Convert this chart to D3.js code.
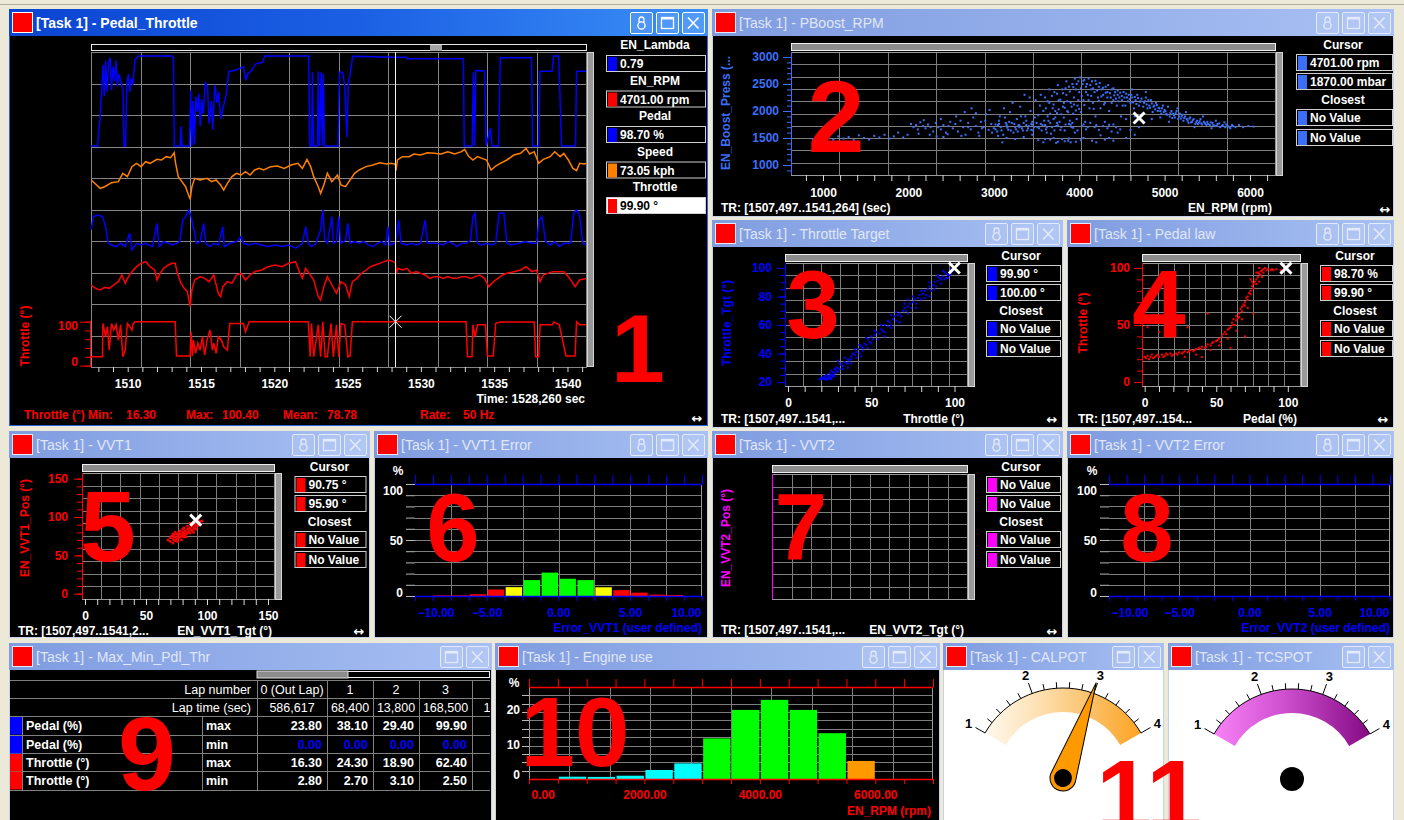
<!DOCTYPE html>
<html><head><meta charset="utf-8">
<script src="https://cdn.jsdelivr.net/npm/d3@7"></script>
<style>
html,body{margin:0;padding:0;background:#ece9d8;overflow:hidden}
svg{display:block}
</style></head><body>
<script>
// ---------- Pedal_Throttle time traces: [time s, value] ----------
const timeTicks = [1510, 1515, 1520, 1525, 1530, 1535, 1540];
const timeRange = [1507.497, 1541.264];
const cursorTime = 1528.26;

const pedalTrace = [[1507.50,0],[1507.95,0],[1508.02,15],[1508.12,32],[1508.25,70],[1508.32,90],[1508.4,55],[1508.5,95],[1508.6,60],[1508.7,92],[1508.8,98],[1508.9,62],[1509.0,88],[1509.1,72],[1509.2,95],[1509.3,66],[1509.4,80],[1509.55,70],[1509.68,62],[1509.75,0],[1509.85,0],[1509.95,70],[1510.05,80],[1510.15,60],[1510.25,75],[1510.35,68],[1510.5,96],[1510.75,100],[1513.05,100],[1513.12,98],[1513.18,0],[1513.58,0],[1513.64,22],[1513.7,0],[1514.22,0],[1514.3,62],[1514.38,0],[1514.45,50],[1514.55,2],[1514.65,55],[1514.75,38],[1514.85,58],[1514.95,22],[1515.05,52],[1515.15,36],[1515.3,70],[1515.45,66],[1515.55,25],[1515.7,50],[1515.8,18],[1515.95,68],[1516.1,48],[1516.2,60],[1516.35,30],[1516.5,42],[1516.7,55],[1516.9,83],[1517.3,84],[1517.6,86],[1517.9,88],[1518.05,73],[1518.2,80],[1518.5,85],[1518.7,91],[1519.2,93],[1519.35,100],[1522.35,100],[1522.42,0],[1522.55,0],[1522.6,82],[1522.68,0],[1522.95,0],[1523.0,83],[1523.08,0],[1523.2,82],[1523.28,0],[1523.35,80],[1523.42,0],[1524.35,0],[1524.45,82],[1524.65,82],[1524.8,68],[1524.95,10],[1525.05,68],[1525.2,82],[1525.35,99.6],[1528.26,98.7],[1529.0,98.7],[1529.05,97],[1532.9,97],[1532.96,0],[1533.5,0],[1533.58,82],[1533.66,0],[1533.75,84],[1534.35,83],[1534.45,0],[1534.75,20],[1534.85,0],[1535.3,0],[1535.42,98],[1537.55,98],[1537.62,0],[1538.05,0],[1538.12,83],[1538.95,83],[1539.05,100],[1539.4,100],[1539.6,0],[1540.55,0],[1540.62,83],[1541.3,83]];

const speedTrace = [[1507.50,55.6],[1507.81,51.1],[1508.12,46.3],[1508.43,48.1],[1508.90,52.6],[1509.36,53.7],[1509.67,63.0],[1509.98,59.3],[1510.29,70.4],[1510.60,74.1],[1510.91,70.4],[1511.22,75.9],[1511.53,74.1],[1512.00,78.5],[1512.31,77.8],[1512.62,81.5],[1512.93,80.4],[1513.17,85.9],[1513.27,74.1],[1513.45,59.3],[1513.70,53.7],[1513.95,48.1],[1514.07,42.6],[1514.26,34.1],[1514.38,48.1],[1514.57,57.4],[1514.94,55.6],[1515.41,57.4],[1515.72,53.7],[1516.03,55.6],[1516.34,50.0],[1516.55,44.4],[1516.80,51.9],[1517.11,59.3],[1517.42,63.0],[1517.73,61.1],[1518.04,64.8],[1518.35,61.1],[1518.66,66.7],[1518.97,68.5],[1519.28,66.7],[1519.75,70.4],[1520.21,71.1],[1520.68,68.5],[1521.14,72.2],[1521.61,74.1],[1521.92,68.5],[1522.23,78.5],[1522.48,70.4],[1522.69,59.3],[1523.00,48.1],[1523.16,40.8],[1523.38,50.0],[1523.62,63.0],[1523.93,53.7],[1524.31,61.1],[1524.55,50.0],[1524.86,48.1],[1525.17,55.6],[1525.48,63.0],[1525.79,66.7],[1526.26,70.4],[1526.72,72.2],[1527.19,74.8],[1527.66,73.3],[1527.97,74.1],[1528.26,73.05],[1528.3,66],[1528.4,77.8],[1528.74,81.5],[1529.21,81.5],[1529.52,84.4],[1529.98,83.3],[1530.45,85.9],[1530.91,85.2],[1531.38,84.4],[1531.84,87.0],[1532.31,84.4],[1532.77,87.0],[1532.99,89.6],[1533.24,82.2],[1533.55,77.8],[1533.86,81.5],[1534.17,79.6],[1534.48,77.8],[1534.79,66.7],[1535.10,71.1],[1535.41,74.1],[1535.87,77.8],[1536.34,83.3],[1536.80,85.2],[1537.17,90.7],[1537.42,84.4],[1537.73,87.0],[1538.04,74.1],[1538.35,78.5],[1538.82,81.5],[1539.13,87.0],[1539.50,81.5],[1539.75,85.2],[1540.06,77.8],[1540.37,68.5],[1540.62,65.9],[1540.83,74.1],[1541.14,73.3],[1541.30,74.1]];

const lambdaTrace = [[1507.50,0.877],[1507.66,0.966],[1507.97,0.977],[1508.28,0.966],[1508.49,0.899],[1508.68,0.788],[1508.90,0.777],[1509.21,0.766],[1509.52,0.788],[1509.83,0.766],[1510.14,0.855],[1510.29,0.743],[1510.60,0.788],[1510.91,0.777],[1511.22,0.788],[1511.69,0.766],[1512.00,0.921],[1512.15,0.766],[1512.46,0.799],[1512.77,0.788],[1513.08,0.777],[1513.55,0.799],[1513.76,0.943],[1513.95,0.966],[1514.17,1.01],[1514.32,0.966],[1514.57,0.855],[1514.69,0.788],[1514.94,0.799],[1515.19,0.921],[1515.31,0.788],[1515.62,0.766],[1515.87,0.788],[1516.18,0.777],[1516.49,0.899],[1516.59,0.766],[1516.96,0.788],[1517.42,0.799],[1517.73,0.832],[1517.89,0.788],[1518.29,0.777],[1518.66,0.788],[1519.13,0.777],[1519.59,0.766],[1520.06,0.777],[1520.52,0.766],[1520.99,0.777],[1521.45,0.755],[1521.92,0.788],[1522.14,0.899],[1522.32,0.788],[1522.54,0.766],[1522.85,0.788],[1523.16,0.877],[1523.31,1.01],[1523.44,0.81],[1523.62,0.788],[1523.93,0.966],[1524.03,0.788],[1524.24,0.799],[1524.40,0.966],[1524.55,0.788],[1524.86,0.81],[1525.02,0.921],[1525.17,0.788],[1525.48,0.799],[1525.79,0.788],[1526.10,0.799],[1526.41,0.777],[1526.72,0.766],[1527.03,0.788],[1527.34,0.799],[1527.59,0.777],[1527.75,0.899],[1527.90,0.777],[1528.26,0.79],[1528.49,0.943],[1528.65,0.788],[1529.05,0.777],[1529.36,0.788],[1529.67,0.777],[1529.98,0.788],[1530.29,0.943],[1530.45,0.788],[1530.76,0.788],[1531.07,0.788],[1531.53,0.777],[1531.84,0.799],[1532.15,0.788],[1532.46,0.766],[1532.77,0.788],[1533.08,0.788],[1533.39,0.81],[1533.55,0.966],[1533.70,0.988],[1533.86,0.788],[1534.10,0.777],[1534.48,0.788],[1534.79,0.777],[1535.10,0.788],[1535.34,0.988],[1535.66,0.988],[1535.87,0.788],[1536.18,0.777],[1536.65,0.788],[1537.11,0.799],[1537.58,0.788],[1537.89,0.788],[1538.07,0.943],[1538.26,0.966],[1538.51,0.799],[1538.82,0.777],[1539.13,0.799],[1539.44,0.766],[1539.75,0.788],[1540.22,0.788],[1540.43,0.988],[1540.62,1.01],[1540.83,0.977],[1541.04,0.788],[1541.30,0.777]];

const rpmTrace = [[1507.50,3233],[1507.81,3011],[1508.12,2900],[1508.43,3078],[1508.74,3011],[1509.05,3233],[1509.36,3456],[1509.61,3900],[1509.83,3344],[1509.98,3678],[1510.29,4122],[1510.60,4456],[1510.91,4678],[1511.22,4789],[1511.53,4456],[1511.84,4233],[1512.00,3567],[1512.21,4011],[1512.46,4344],[1512.77,4567],[1513.02,4678],[1513.24,4678],[1513.39,4011],[1513.64,3344],[1513.86,3011],[1514.07,2789],[1514.26,1789],[1514.38,2900],[1514.57,3567],[1514.94,3789],[1515.25,3678],[1515.56,3456],[1515.87,3900],[1516.18,2678],[1516.34,2456],[1516.49,3122],[1516.80,3456],[1517.11,3344],[1517.42,3900],[1517.73,4011],[1518.04,3567],[1518.35,3900],[1518.66,4122],[1519.13,4233],[1519.59,4456],[1520.06,4567],[1520.52,4456],[1520.99,4678],[1521.45,4789],[1521.76,4011],[1521.92,3678],[1522.14,4344],[1522.38,4011],[1522.69,3567],[1523.00,2456],[1523.16,2233],[1523.38,3122],[1523.62,3789],[1523.93,3233],[1524.24,2678],[1524.55,3456],[1524.86,3233],[1525.11,2456],[1525.33,3456],[1525.64,3678],[1525.95,4011],[1526.26,4233],[1526.57,4456],[1526.88,4567],[1527.19,4678],[1527.50,4789],[1527.81,4900],[1528.12,4789],[1528.26,4701],[1528.32,4011],[1528.43,4344],[1528.74,4233],[1529.05,4344],[1529.36,4011],[1529.67,4122],[1529.98,4011],[1530.29,3900],[1530.60,3678],[1530.91,3789],[1531.22,3789],[1531.53,3678],[1531.84,3789],[1532.15,3678],[1532.46,3678],[1532.77,3789],[1533.08,3789],[1533.39,3678],[1533.70,3789],[1534.02,3900],[1534.33,3678],[1534.64,3122],[1534.95,3456],[1535.26,3678],[1535.57,3900],[1535.87,4011],[1536.34,4122],[1536.80,4233],[1537.17,4456],[1537.58,4122],[1537.89,4233],[1538.13,3456],[1538.35,3900],[1538.66,4011],[1538.97,4122],[1539.28,4122],[1539.75,4122],[1540.06,3789],[1540.30,3456],[1540.52,3122],[1540.83,3567],[1541.30,3678]];

const throttleTrace = [[1507.50,20],[1508.28,20],[1508.31,96],[1508.49,66],[1508.62,89],[1508.74,35],[1508.90,96],[1509.05,81],[1509.21,93],[1509.36,58],[1509.52,93],[1509.67,20],[1509.83,35],[1509.98,96],[1510.14,89],[1510.29,81],[1510.38,96],[1510.51,99.9],[1513.24,99.9],[1513.33,22],[1514.26,22],[1514.32,77],[1514.41,22],[1514.48,58],[1514.63,28],[1514.79,51],[1514.94,35],[1515.10,66],[1515.25,24],[1515.41,58],[1515.62,81],[1515.78,35],[1515.87,51],[1516.03,28],[1516.18,66],[1516.40,58],[1516.55,43],[1516.80,35],[1516.96,96],[1517.89,96],[1518.04,77],[1518.29,99.9],[1522.32,99.9],[1522.45,20],[1522.54,96],[1522.69,20],[1523.00,93],[1523.16,20],[1523.31,99.9],[1523.47,20],[1523.62,20],[1523.87,96],[1524.03,20],[1524.24,93],[1524.40,20],[1524.55,96],[1524.80,93],[1525.02,20],[1525.17,22],[1525.33,99.9],[1533.08,99.9],[1533.18,20],[1533.49,20],[1533.55,93],[1533.70,66],[1533.86,93],[1534.41,93],[1534.54,22],[1534.94,22],[1535.10,96],[1535.41,99.5],[1537.73,99.5],[1537.83,20],[1538.04,20],[1538.13,93],[1538.97,93],[1539.07,99.5],[1539.44,93],[1539.90,22],[1540.52,22],[1540.62,99.9],[1540.83,93],[1541.30,93]];

const channelNames = ["EN_Lambda", "EN_RPM", "Pedal", "Speed", "Throttle"];
const channelValues = ["0.79", "4701.00 rpm", "98.70 %", "73.05 kph", "99.90 °"];
const throttleTicks = [0, 20, 40, 60, 80, 100];
const statNames = ["Throttle (°) Min:", "Max:", "Mean:", "Rate:"];
const statValues = ["16.30", "100.40", "78.78", "50 Hz"];
const cursorLabel = "Time: 1528,260 sec";

// ---------- PBoost_RPM scatter: [rpm, mbar] ----------
const boostPoints = [[880,1480],[930,1510],[990,1450],[1060,1500],[1120,1470],[1180,1530],[1240,1490],[1300,1520],[1360,1460],[1420,1550],[1480,1500],[1540,1470],[1600,1540],[1660,1510],[1720,1560],[1780,1490],[1830,1530],[1880,1600],[1940,1510],[1990,1560],
[2030,1760],[2060,1700],[2090,1740],[2110,1660],[2140,1790],[2170,1720],[2200,1680],[2230,1750],[2260,1700],[2290,1620],[2320,1780],[2350,1700],[2380,1660],[2410,1740],[2440,1600],[2470,1720],[2490,1800],[2120,1580],[2250,1560],[2330,1530],[2410,1520],[2460,1570],[2180,1830],[2380,1850],
[2520,1680],[2550,1760],[2580,1620],[2610,1820],[2640,1700],[2670,1560],[2700,1780],[2730,1660],[2760,1880],[2790,1720],[2820,1600],[2850,1800],[2880,1700],[2910,1940],[2940,1650],[2970,1760],[2560,1900],[2660,1980],[2740,2050],[2830,1540],[2900,1820],[2980,1600],[2620,1540],[2790,1960],[2700,1700],[2860,1680],[2950,2020],
[3000,1680],[3020,1750],[3040,1620],[3060,1820],[3080,1700],[3100,1420],[3110,1560],[3130,1880],[3150,1720],[3170,1650],[3190,1980],[3210,1780],[3230,1600],[3250,1700],[3270,1850],[3290,1740],[3310,2080],[3330,1680],[3350,1780],[3370,1900],[3390,1640],[3410,1720],[3430,2000],[3450,1800],[3470,1700],[3490,2200],[3050,1540],[3150,1500],[3250,1480],[3350,1520],[3450,1560],[3120,2050],[3220,2150],[3320,1900],[3420,2250],[3070,1900],[3180,1800],[3280,1620],[3380,1820],[3480,1880],[3360,2300],[3440,1650],
[3510,1700],[3520,1920],[3540,2100],[3550,1760],[3560,1640],[3580,2000],[3590,1820],[3600,2250],[3620,1700],[3630,1900],[3650,2150],[3660,1780],[3670,1580],[3690,2050],[3700,1850],[3710,2350],[3730,1720],[3740,1960],[3760,2200],[3770,1800],[3780,1650],[3800,2400],[3810,2080],[3820,1880],[3840,1750],[3850,2300],[3860,2000],[3870,1450],[3880,2450],[3890,1820],[3900,2150],[3910,1700],[3920,2500],[3930,1950],[3940,2250],[3950,1600],[3960,2400],[3970,1850],[3980,2100],[3990,2550],[3600,1480],[3700,1500],[3750,1430],[3800,1480],[3900,1420],[3550,2300],[3650,2400],[3750,2480],[3850,2550],[3950,2600],[3620,1600],[3720,2000],[3820,2150],[3920,1780],
[4000,2350],[4010,2620],[4020,1980],[4040,2500],[4050,2200],[4060,2580],[4070,1800],[4080,2450],[4100,2300],[4110,2600],[4120,2050],[4140,2400],[4150,2550],[4160,2150],[4180,2350],[4190,1900],[4200,2500],[4220,2250],[4230,2450],[4250,2050],[4260,2400],[4280,2300],[4300,2150],[4310,2450],[4330,2350],[4350,2000],[4370,2250],[4380,2400],[4400,2200],[4420,2350],[4440,2100],[4450,2300],[4470,2250],[4490,1900],[4050,1500],[4150,1450],[4250,1550],[4350,1500],[4450,1600],[4100,1700],[4300,1800],[4400,1750],
[4500,2200],[4520,2350],[4540,2100],[4560,2250],[4580,2300],[4600,2150],[4620,2250],[4640,2050],[4660,2200],[4680,2300],[4700,2100],[4720,2180],[4740,1950],[4760,2150],[4780,2250],[4800,2050],[4820,2100],[4840,2200],[4860,1980],[4880,2100],[4900,2150],[4920,2000],[4940,2050],[4960,1950],[4980,2100],[4550,1850],[4650,1900],[4750,1800],[4850,1850],[4950,1880],[4600,1650],[4700,1700],[4620,2400],[4780,2350],
[5000,2020],[5020,1950],[5040,2080],[5060,1900],[5080,2000],[5100,1950],[5120,1880],[5140,2000],[5160,1850],[5180,1950],[5200,1900],[5220,1820],[5240,1900],[5260,1850],[5280,1780],[5300,1880],[5320,1800],[5340,1850],[5360,1760],[5380,1820],[5400,1780],[5420,1850],[5440,1750],[5460,1800],[5480,1760],[5050,1800],[5150,2050],[5250,1980],[5350,1700],[5450,1900],
[5500,1800],[5530,1740],[5560,1780],[5590,1720],[5620,1760],[5650,1700],[5680,1740],[5710,1700],[5740,1720],[5770,1680],[5800,1720],[5830,1700],[5870,1740],[5920,1700],[5980,1720],[6040,1710],[5600,1820],[5700,1790],[5550,1680],
[3050,1740],[3150,1750],[3300,1735],[3450,1745],[3600,1740],[3750,1735],[3900,1745],[4050,1750],[4200,1740],[4350,1745],
[3610,2050],[3630,2180],[3660,1950],[3680,2280],[3700,2120],[3720,1880],[3740,2320],[3760,2030],[3780,2210],[3790,1940],[3810,2330],[3830,2060],[3840,2420],[3860,2180],[3870,1980],[3890,2360],[3910,2080],[3930,2440],[3940,2120],[3960,2010],[3970,2500],[3990,2200],[4000,2040],[4020,2420],[4030,2280],[4050,2560],[4060,2110],[4080,2350],[4090,2500],[4110,2200],[4130,2480],[4140,2280],[4160,2420],[4170,2040],[4190,2560],[4210,2380],[4230,2190],[4240,2520],[4260,2270],[4280,2430],[4290,2120],[4310,2340],[4330,2250],[4340,2480],[4360,2330],[4380,2150],[4400,2420],[4410,2290],[4430,2230],[4450,2380],[4460,2180],[4480,2340],[4500,2280],[4510,2100],[4530,2250],[4550,2320],[4570,2180],[4590,2220],[4610,2300],[4630,2160],[4650,2260],[4670,2130],[4690,2240],[4710,2170],[4730,2230],[4750,2080],[4770,2180],[4790,2120],[4810,2200],[4830,2060],[4850,2140],[4870,2080],[4890,2030],[4910,2110],[4930,2060],[4950,2000],[4970,2050],[4990,1980],[5010,2000],[5030,1930],[5070,1960],[5090,1870],[5110,1920],[5130,1960],[5170,1900],[5190,1860],[5210,1930],[5230,1870],[5270,1820],[5290,1860],[5310,1790],[5330,1830],[5370,1790],[5390,1760],[5410,1810],[5430,1770],[5470,1780],[5490,1740],[5510,1760],[5540,1790],[5570,1740],[5610,1730],[5640,1770],[5670,1720],[5720,1750],[5760,1700],[5790,1740],
[3020,1660],[3060,1760],[3090,1640],[3140,1780],[3160,1690],[3200,1640],[3240,1760],[3260,1660],[3300,1700],[3340,1640],[3380,1740],[3400,1680],[3440,1760],[3460,1640],[3500,1780],[3530,1680],[3570,1740],[3610,1660],[3640,1820],[3680,1700],[3710,1640],[3740,1780],[3790,1700],[3830,1640],[3880,1760],[3930,1690],[3980,1640],[4030,1720],[4080,1660],[4130,1780],[4180,1700],[4230,1650],[4280,1720],[4330,1680],[4380,1620],[4430,1700],[4480,1660],
[3520,1460],[3580,1420],[3660,1470],[3730,1410],[3830,1440],[3880,1490],[3960,1430],[4020,1460],[4200,1420],[4300,1470],[4400,1450],[4550,1500],[4650,1560]];
const boostCursor = [4701, 1870];
const boostCursorValues = ["4701.00 rpm", "1870.00 mbar"];
const rpmTicks = [1000, 2000, 3000, 4000, 5000, 6000];
const boostTicks = [1000, 1500, 2000, 2500, 3000];

// ---------- Throttle Target scatter: [throttle °, target °] ----------
const thrTgtPoints = [[19,22],[20,22],[21,22.5],[22,22],[22,23],[23,22.5],[24,23],[24,22],[25,24],[25,22.5],[26,23],[26,25],[27,24],[23,25],[21,23],[27,27],[28,26],[28,29],[29,28],[30,30],[31,29],[30,27],[32,32],[33,31],[34,34],[35,33],[36,36],[37,35],[38,38],[39,40],[40,39],[41,41],[42,43],[43,40],[44,45],[45,44],[46,47],[47,46],[48,50],[49,48],[50,52],[51,50],[52,53],[53,55],[55,54],[56,57],[57,56],[58,60],[60,59],[61,62],[62,60],[63,64],[64,66],[65,63],[66,67],[67,68],[68,66],[69,70],[70,72],[71,70],[72,73],[73,75],[74,72],[75,76],[76,78],[77,75],[78,79],[79,81],[80,78],[81,82],[82,84],[83,81],[84,85],[85,87],[86,84],[87,88],[88,90],[89,87],[90,91],[91,93],[92,92],[93,94],[94,92],[95,96],[96,95],[97,97],[98,99],[99,98],[100,100],[38,33],[30,35],[44,38],[58,52],[62,67],[72,78],[85,80],[36,30],[26,28],[48,44],[90,95],[93,98],[95,93],[97,95],
[20,23],[22,24],[23,21.5],[24,24],[25,26],[26,22],[27,25],[28,24],[29,30],[31,33],[33,29],[34,37],[36,33],[38,36],[40,43],[41,37],[43,46],[45,42],[47,51],[50,47],[52,56],[54,50],[56,60],[58,55],[60,63],[62,58],[65,69],[67,62],[70,75],[72,68],[75,80],[77,72],[80,84],[82,79],[85,90],[88,85],[90,94],[92,89],[94,97],[96,93],[98,96]];
const thrTgtCursor = [99.9, 100];
const thrTgtValues = ["99.90 °", "100.00 °"];

// ---------- Pedal law scatter: [pedal %, throttle °] ----------
const pedalLawPoints = [[0,22],[1,21],[2,23],[3,20],[4,22],[5,24],[6,21],[8,23],[10,22],[12,24],[14,23],[16,24],[18,25],[20,24],[22,25],[24,26],[26,25],[28,27],[30,26],[32,28],[34,27],[36,29],[38,30],[40,31],[42,30],[44,33],[46,32],[48,35],[50,36],[52,38],[54,40],[55,42],[56,44],[58,46],[60,48],[61,52],[62,55],[63,50],[64,58],[65,56],[66,60],[67,64],[68,62],[69,68],[70,70],[71,74],[72,72],[73,78],[74,80],[75,84],[76,86],[77,88],[78,90],[79,92],[80,95],[81,97],[82,98],[83,99],[85,98],[88,98],[90,98],[92,99],[95,98],[98,100],[80,88],[78,96],[74,90],[72,65],[68,55],[64,45],[58,38],[52,32],[46,28],[2,48],[5,55],[10,44],[20,52],[30,48],[44,60],[40,22],[36,24],[28,22],[60,30],[70,40],[76,60],[80,100],[82,92],[84,100],
[7,22],[9,24],[13,22],[15,25],[19,23],[23,24],[27,26],[31,27],[35,28],[39,29],[43,31],[47,34],[51,37],[53,35],[57,42],[59,47],[62,50],[64,54],[66,57],[68,66],[70,67],[72,75],[74,77],[75,88],[76,82],[78,86],[79,96],[81,94],[83,96],[86,99],[89,99]];
const pedalLawCursor = [98.7, 99.9];
const pedalLawValues = ["98.70 %", "99.90 °"];

// ---------- VVT1 scatter: [target °, position °] ----------
const vvt1Points = [[70,68],[72,72],[73,70],[74,74],[75,71],[76,76],[77,73],[78,78],[79,75],[80,77],[80,80],[81,79],[82,82],[83,78],[84,84],[85,81],[86,86],[87,83],[88,88],[89,85],[90,90],[91,88],[92,92],[93,89],[94,94],[95,91],[96,95],[71,75],[74,69],[76,72],[78,74],[82,76],[85,85],[88,82],[90,86],[93,95],[72,66],[68,70],[75,78],[80,84],
[72,78],[74,80],[76,68],[78,82],[79,70],[81,86],[83,74],[84,88],[86,79],[87,90],[89,80],[91,84],[92,96],[70,73],[73,76],[77,80],[81,74],[84,80],[86,92],[89,93]];
const vvt1Cursor = [90.75, 95.9];
const vvt1Values = ["90.75 °", "95.90 °"];
const vvtTicks = [0, 50, 100, 150];

// ---------- VVT1 error distribution (bins of 1.25) ----------
const vvt1BinStart = [-8.75, -7.5, -6.25, -5, -3.75, -2.5, -1.25, 0, 1.25, 2.5, 3.75, 5, 6.25, 7.5];
const vvt1Pct = [0.6, 0.7, 1.6, 5.8, 7.9, 14.2, 20.9, 15.4, 14.2, 7.8, 5.2, 3.0, 1.2, 0.9];
const errTicks = [-10, -5, 0, 5, 10];
const pctTicks = [0, 50, 100];

// ---------- Lap table ----------
const lapNumbers = ["0 (Out Lap)", "1", "2", "3", "4"];
const lapTimes = ["586,617", "68,400", "13,800", "168,500", "134,500"];
const rowChannels = ["Pedal (%)", "Pedal (%)", "Throttle (°)", "Throttle (°)"];
const rowStats = ["max", "min", "max", "min"];
const pedalMax = [23.80, 38.10, 29.40, 99.90];
const pedalMin = [0.00, 0.00, 0.00, 0.00];
const throttleMax = [16.30, 24.30, 18.90, 62.40];
const throttleMin = [2.80, 2.70, 3.10, 2.50];

// ---------- Engine use (bins of 500 rpm) ----------
const engineBinStart = [500, 1000, 1500, 2000, 2500, 3000, 3500, 4000, 4500, 5000, 5500];
const enginePct = [0.66, 0.6, 0.95, 2.6, 4.5, 11.7, 19.9, 22.8, 19.9, 13.2, 5.2];
const engineTicks = [0, 2000, 4000, 6000];
const enginePctTicks = [0, 10, 20];

// ---------- Gauges ----------
const gaugeLabels = [1, 2, 3, 4];
const calpotValue = 2.98;

// ---------- drawing ----------
const FONT = '"Liberation Sans", Arial, Helvetica, sans-serif';
const W = 1404, H = 820, TB = 27;
const BLUE = "#0000ff", RED = "#ff0000", ORANGE = "#ff8000", RBLUE = "#3b6ff8", MAG = "#ff00ff";

const svg = d3.select("body").append("svg").attr("width", W).attr("height", H)
  .style("font-family", FONT);
svg.append("rect").attr("width", W).attr("height", H).attr("fill", "#ece9d8");
svg.append("line").attr("x1", 0).attr("x2", W).attr("y1", 4.5).attr("y2", 4.5).attr("stroke", "#b2afa2");

const defs = svg.append("defs");
function grad(id, stops, a) {
  const lg = defs.append("linearGradient").attr("id", id);
  Object.entries(a).forEach(([k, v]) => lg.attr(k, v));
  stops.forEach(([o, c]) => lg.append("stop").attr("offset", o).attr("stop-color", c));
}
grad("tbA", [[0, "#0a44d2"], [0.5, "#1b60e4"], [1, "#3b8ff7"]], { x1: 0, x2: 1, y1: 0, y2: 0 });
grad("tbI", [[0, "#7f9ce0"], [1, "#a8c0f3"]], { x1: 0, x2: 1, y1: 0, y2: 0 });

function txt(x, y, s, o = {}) {
  return svg.append("text").attr("x", x).attr("y", y).text(s)
    .attr("fill", o.fill || "#fff").attr("font-size", o.fs || 12)
    .attr("font-weight", o.fw || "bold").attr("text-anchor", o.anchor || "start");
}
function vtxt(x, y, s, color) {
  svg.append("text").attr("transform", `translate(${x},${y}) rotate(-90)`).attr("text-anchor", "middle")
    .attr("dy", "0.35em").attr("fill", color).attr("font-size", 12).attr("font-weight", "bold").text(s);
}

function panel(x0, y0, x1, y1, title, o = {}) {
  const g = svg.append("g");
  g.append("rect").attr("x", x0 + 0.5).attr("y", y0 + 0.5).attr("width", x1 - x0 - 1).attr("height", y1 - y0 - 1)
    .attr("fill", o.bg || "#000").attr("stroke", o.active ? "#2a66e0" : "#c6d2ec");
  g.append("rect").attr("x", x0).attr("y", y0).attr("width", x1 - x0).attr("height", TB)
    .attr("fill", o.active ? "url(#tbA)" : "url(#tbI)");
  const light = o.active ? "#ffffff" : "#e3eaf9";
  g.append("rect").attr("x", x0 + 3.5).attr("y", y0 + 3.5).attr("width", 20).attr("height", 20)
    .attr("fill", RED).attr("stroke", light);
  g.append("text").attr("x", x0 + 27).attr("y", y0 + 19).attr("fill", o.active ? "#fff" : "#e0e7f7")
    .attr("font-size", 14).attr("font-weight", o.active ? "bold" : "normal").text(title);
  let bx = x1 - 3;
  const btns = o.lock === false ? ["close", "max"] : ["close", "max", "lock"];
  btns.forEach(b => {
    bx -= 23;
    const bg = g.append("g").attr("transform", `translate(${bx},${y0 + 3})`);
    bg.append("rect").attr("x", 0.5).attr("y", 0.5).attr("width", 22).attr("height", 21).attr("rx", 1.5)
      .attr("fill", "rgba(255,255,255,0.12)").attr("stroke", light);
    if (b === "close") bg.append("path").attr("d", "M6,5.5L16.5,16.5M16.5,5.5L6,16.5").attr("stroke", light).attr("stroke-width", 1.7);
    if (b === "max") {
      bg.append("rect").attr("x", 5.5).attr("y", 5.5).attr("width", 12).attr("height", 11).attr("fill", "none").attr("stroke", light).attr("stroke-width", 1.3);
      bg.append("line").attr("x1", 5.5).attr("x2", 17.5).attr("y1", 6.5).attr("y2", 6.5).attr("stroke", light).attr("stroke-width", 2);
    }
    if (b === "lock") {
      bg.append("path").attr("d", "M9,10V7.5a2.5,2.5 0 0 1 5,0V10").attr("fill", "none").attr("stroke", light).attr("stroke-width", 1.3);
      bg.append("circle").attr("cx", 11.5).attr("cy", 13.5).attr("r", 3.6).attr("fill", "none").attr("stroke", light).attr("stroke-width", 1.4);
    }
    bx -= 3;
  });
}

function valueBox(x, y, w, color, s, selected) {
  svg.append("rect").attr("x", x + 0.5).attr("y", y + 0.5).attr("width", w).attr("height", 16)
    .attr("fill", selected ? "#fff" : "#000").attr("stroke", "#cfcfcf");
  svg.append("rect").attr("x", x + 2).attr("y", y + 2).attr("width", 9).attr("height", 14).attr("fill", color);
  txt(x + 14, y + 13, s, { fill: selected ? "#000" : "#fff" });
}
function cursorLegend(cx, bx, bw, y, color, values) {
  txt(cx, y + 4, "Cursor", { anchor: "middle" });
  valueBox(bx, y + 9, bw, color, values[0]);
  valueBox(bx, y + 28, bw, color, values[1]);
  txt(cx, y + 59, "Closest", { anchor: "middle" });
  valueBox(bx, y + 64, bw, color, "No Value");
  valueBox(bx, y + 84, bw, color, "No Value");
}

function drawAxis(x, y, gen, color, textColor) {
  const g = svg.append("g").attr("transform", `translate(${x},${y})`).call(gen);
  g.attr("font-family", FONT).attr("font-size", 12).attr("font-weight", "bold");
  g.select(".domain").remove();
  g.selectAll(".tick line").attr("stroke", color);
  g.selectAll(".tick text").attr("fill", textColor || "#fff");
  return g;
}

function plotFrame(p, gridColor, opts = {}) {
  const g = svg.append("g");
  const cols = opts.cols || 10, rows = opts.rows || 10;
  for (let i = 1; i < cols; i++) {
    const x = Math.round(p.x0 + i * (p.x1 - p.x0) / cols) + 0.5;
    g.append("line").attr("x1", x).attr("x2", x).attr("y1", p.y0).attr("y2", p.y1).attr("stroke", gridColor);
  }
  for (let i = 1; i < rows; i++) {
    const y = Math.round(p.y0 + i * (p.y1 - p.y0) / rows) + 0.5;
    g.append("line").attr("x1", p.x0).attr("x2", p.x1).attr("y1", y).attr("y2", y).attr("stroke", gridColor);
  }
  g.append("rect").attr("x", p.x0 + 0.5).attr("y", p.y0 + 0.5).attr("width", p.x1 - p.x0).attr("height", p.y1 - p.y0)
    .attr("fill", "none").attr("stroke", opts.frame || gridColor);
}
function scrollBars(p) {
  svg.append("rect").attr("x", p.x0 + 0.5).attr("y", p.y0 - 8.5).attr("width", p.x1 - p.x0).attr("height", 7)
    .attr("fill", "#8c8c8c").attr("stroke", "#eeeeee");
  svg.append("rect").attr("x", p.x1 + 1.5).attr("y", p.y0 + 0.5).attr("width", 6).attr("height", p.y1 - p.y0)
    .attr("fill", "#9a9a9a").attr("stroke", "#d6d6d6");
}
function crossMark(x, y, r, w) {
  svg.append("path").attr("d", `M${x - r},${y - r}L${x + r},${y + r}M${x + r},${y - r}L${x - r},${y + r}`)
    .attr("stroke", "#fff").attr("stroke-width", w);
}
function dots(points, xs, ys, color, s) {
  svg.append("g").selectAll("rect").data(points).join("rect")
    .attr("x", d => xs(d[0]) - s / 2).attr("y", d => ys(d[1]) - s / 2)
    .attr("width", s).attr("height", s).attr("fill", color);
}
function arrowsGlyph(x, y) {
  txt(x, y, "↔", { anchor: "middle", fs: 13 }).attr("font-family", "DejaVu Sans");
}

// ===== Panel 1 : Pedal_Throttle =====
panel(9, 9, 708, 426, "[Task 1] - Pedal_Throttle", { active: true });
const p1 = { x0: 91, x1: 586, y0: 52, y1: 367 };
svg.append("rect").attr("x", 91.5).attr("y", 44.5).attr("width", 495).attr("height", 6).attr("fill", "#000").attr("stroke", "#e8e8e8");
svg.append("rect").attr("x", 430).attr("y", 45).attr("width", 12).attr("height", 6).attr("fill", "#a4a4a4");
svg.append("rect").attr("x", 587.5).attr("y", 52.5).attr("width", 6).attr("height", 314).attr("fill", "#979797").attr("stroke", "#d4d4d4");
plotFrame(p1, "#858585");

const xT = d3.scaleLinear().domain(timeRange).range([p1.x0, p1.x1]);
const yPedal = d3.scaleLinear().domain([0, 100]).range([146, 56]);
const ySpeed = d3.scaleLinear().domain([30, 100]).range([203, 140]);
const yLambda = d3.scaleLinear().domain([0.5, 1.0]).range([286.5, 211.5]);
const yRpm = d3.scaleLinear().domain([2000, 6000]).range([303.5, 243.5]);
const yThr = d3.scaleLinear().domain([0, 100]).range([365.6, 321.7]);

defs.append("clipPath").attr("id", "clipP1").append("rect")
  .attr("x", p1.x0).attr("y", p1.y0).attr("width", p1.x1 - p1.x0).attr("height", p1.y1 - p1.y0);
const traces = svg.append("g").attr("clip-path", "url(#clipP1)");
[[pedalTrace, yPedal, BLUE], [speedTrace, ySpeed, ORANGE], [lambdaTrace, yLambda, BLUE],
 [rpmTrace, yRpm, RED], [throttleTrace, yThr, RED]].forEach(([data, ys, color]) => {
  traces.append("path").datum(data)
    .attr("d", d3.line().x(d => xT(d[0])).y(d => ys(d[1])))
    .attr("fill", "none").attr("stroke", color).attr("stroke-width", 1.5);
});

// time axis
drawAxis(0, p1.y1, d3.axisBottom(xT).tickValues(d3.range(1508, 1542)).tickSize(5).tickFormat(""), "#d8d8d8");
drawAxis(0, p1.y1, d3.axisBottom(xT).tickValues(timeTicks).tickSize(0).tickPadding(12).tickFormat(d3.format("d")), "#d8d8d8");
// throttle axis
svg.append("line").attr("x1", 90.5).attr("x2", 90.5).attr("y1", yThr(100) - 1).attr("y2", p1.y1).attr("stroke", RED);
drawAxis(90, 0, d3.axisLeft(yThr).tickValues(throttleTicks).tickSize(5).tickFormat(""), RED);
drawAxis(90, 0, d3.axisLeft(yThr).tickValues([0, 100]).tickSize(10).tickFormat(""), RED);
txt(78, yThr(100) + 8, "100", { fill: RED, anchor: "end" });
txt(78, yThr(0) + 0.5, "0", { fill: RED, anchor: "end" });
vtxt(25, 336, "Throttle (°)", RED);

// cursor
const cx1 = Math.round(xT(cursorTime)) + 0.5;
svg.append("line").attr("x1", cx1).attr("x2", cx1).attr("y1", p1.y0).attr("y2", p1.y1).attr("stroke", "#f2f2f2");
crossMark(cx1, yThr(99.9), 6, 1);
txt(585, 403, cursorLabel, { anchor: "end" });
const statX = [[24, 126], [186, 222], [283, 327], [420, 463]];
statNames.forEach((s, i) => {
  txt(statX[i][0], 419, s, { fill: RED });
  txt(statX[i][1], 419, statValues[i], { fill: RED });
});
arrowsGlyph(697, 423);

// legend
const chColors = [BLUE, RED, BLUE, ORANGE, RED];
channelNames.forEach((n, i) => {
  const y = 45 + i * 35.5;
  txt(655, y + 4, n, { anchor: "middle" });
  valueBox(606, y + 10, 99, chColors[i], channelValues[i], i === 4);
});

// ===== Panel 2 : PBoost_RPM =====
panel(712, 9, 1394, 217, "[Task 1] - PBoost_RPM");
const p2 = { x0: 791, x1: 1275, y0: 52, y1: 175 };
scrollBars(p2);
plotFrame(p2, "#7d7d7d", { frame: "#9a9a9a" });
const xB = d3.scaleLinear().domain([1000, 6000]).range([823, 1250]);
const yB = d3.scaleLinear().domain([1000, 3000]).range([165, 57]);
svg.append("line").attr("x1", p2.x0 + 0.5).attr("x2", p2.x0 + 0.5).attr("y1", p2.y0).attr("y2", p2.y1).attr("stroke", RBLUE);
drawAxis(p2.x0, 0, d3.axisLeft(yB).tickValues(d3.range(900, 3100, 100)).tickSize(4).tickFormat(""), RBLUE);
drawAxis(p2.x0, 0, d3.axisLeft(yB).tickValues(boostTicks).tickSize(8).tickPadding(4).tickFormat(d3.format("d")), RBLUE, RBLUE);
drawAxis(0, p2.y1, d3.axisBottom(xB).tickValues(d3.range(800, 6300, 200)).tickSize(6).tickFormat(""), "#d8d8d8");
drawAxis(0, p2.y1, d3.axisBottom(xB).tickValues(rpmTicks).tickSize(0).tickPadding(13.5).tickFormat(d3.format("d")), "#d8d8d8");
dots(boostPoints, xB, yB, RBLUE, 2);
crossMark(xB(boostCursor[0]), yB(boostCursor[1]), 5.5, 3);
vtxt(726, 113, "EN_Boost_Press (...", RBLUE);
txt(721, 212, "TR: [1507,497..1541,264] (sec)");
txt(1272, 212, "EN_RPM (rpm)", { anchor: "end" });
arrowsGlyph(1385, 214);
cursorLegend(1343, 1296, 96, 45, RBLUE, boostCursorValues);

// ===== Panel 3 : Throttle Target =====
panel(712, 220, 1063, 428, "[Task 1] - Throttle Target");
const p3 = { x0: 785, x1: 967, y0: 263, y1: 386 };
scrollBars(p3);
plotFrame(p3, "#7d7d7d", { frame: "#9a9a9a" });
const x3 = d3.scaleLinear().domain([0, 100]).range([788, 954.5]);
const y3 = d3.scaleLinear().domain([20, 100]).range([382, 268]);
svg.append("line").attr("x1", p3.x0 + 0.5).attr("x2", p3.x0 + 0.5).attr("y1", p3.y0).attr("y2", p3.y1).attr("stroke", BLUE);
drawAxis(p3.x0, 0, d3.axisLeft(y3).tickValues(d3.range(20, 101, 5)).tickSize(5).tickFormat(""), BLUE);
drawAxis(p3.x0, 0, d3.axisLeft(y3).tickValues([20, 40, 60, 80, 100]).tickSize(8).tickPadding(5).tickFormat(d3.format("d")), BLUE, BLUE);
drawAxis(0, p3.y1, d3.axisBottom(x3).tickValues(d3.range(0, 101, 10)).tickSize(6).tickFormat(""), "#d8d8d8");
drawAxis(0, p3.y1, d3.axisBottom(x3).tickValues([0, 50, 100]).tickSize(0).tickPadding(12.5).tickFormat(d3.format("d")), "#d8d8d8");
dots(thrTgtPoints, x3, y3, BLUE, 2);
crossMark(x3(thrTgtCursor[0]), y3(thrTgtCursor[1]), 5.5, 3);
vtxt(727, 323, "Throttle_Tgt (°)", BLUE);
txt(721, 423, "TR: [1507,497..1541,...");
txt(964, 423, "Throttle (°)", { anchor: "end" });
arrowsGlyph(1052, 424);
cursorLegend(1021, 986, 74, 256, BLUE, thrTgtValues);

// ===== Panel 4 : Pedal law =====
panel(1067, 220, 1394, 428, "[Task 1] - Pedal law");
const p4 = { x0: 1142, x1: 1300, y0: 263, y1: 386 };
scrollBars(p4);
plotFrame(p4, "#7d7d7d", { frame: "#9a9a9a" });
const x4 = d3.scaleLinear().domain([0, 100]).range([1144.7, 1287.8]);
const y4 = d3.scaleLinear().domain([0, 100]).range([382, 268]);
svg.append("line").attr("x1", p4.x0 + 0.5).attr("x2", p4.x0 + 0.5).attr("y1", p4.y0).attr("y2", p4.y1).attr("stroke", RED);
drawAxis(p4.x0, 0, d3.axisLeft(y4).tickValues(d3.range(0, 101, 10)).tickSize(5).tickFormat(""), RED);
drawAxis(p4.x0, 0, d3.axisLeft(y4).tickValues([0, 50, 100]).tickSize(8).tickPadding(4).tickFormat(d3.format("d")), RED, RED);
drawAxis(0, p4.y1, d3.axisBottom(x4).tickValues(d3.range(0, 101, 10)).tickSize(6).tickFormat(""), "#d8d8d8");
drawAxis(0, p4.y1, d3.axisBottom(x4).tickValues([0, 50, 100]).tickSize(0).tickPadding(12.5).tickFormat(d3.format("d")), "#d8d8d8");
dots(pedalLawPoints, x4, y4, RED, 2);
crossMark(x4(pedalLawCursor[0]), y4(pedalLawCursor[1]), 5.5, 3);
vtxt(1083, 323, "Throttle (°)", RED);
txt(1078, 423, "TR: [1507,497..154...");
txt(1297, 423, "Pedal (%)", { anchor: "end" });
arrowsGlyph(1383, 424);
cursorLegend(1355, 1320, 72, 256, RED, pedalLawValues);

// ===== Panel 5 : VVT1 =====
panel(9, 431, 370, 638, "[Task 1] - VVT1");
const p5 = { x0: 82, x1: 274, y0: 473, y1: 599 };
scrollBars(p5);
plotFrame(p5, "#7d7d7d", { frame: "#9a9a9a" });
const x5 = d3.scaleLinear().domain([0, 150]).range([85, 268]);
const y5 = d3.scaleLinear().domain([0, 150]).range([593.7, 478.7]);
svg.append("line").attr("x1", p5.x0 + 0.5).attr("x2", p5.x0 + 0.5).attr("y1", p5.y0).attr("y2", p5.y1).attr("stroke", RED);
drawAxis(p5.x0, 0, d3.axisLeft(y5).tickValues(d3.range(0, 151, 10)).tickSize(5).tickFormat(""), RED);
drawAxis(p5.x0, 0, d3.axisLeft(y5).tickValues(vvtTicks).tickSize(8).tickPadding(6).tickFormat(d3.format("d")), RED, RED);
drawAxis(0, p5.y1, d3.axisBottom(x5).tickValues(d3.range(0, 151, 10)).tickSize(6).tickFormat(""), "#d8d8d8");
drawAxis(0, p5.y1, d3.axisBottom(x5).tickValues(vvtTicks).tickSize(0).tickPadding(12.8).tickFormat(d3.format("d")), "#d8d8d8");
dots(vvt1Points, x5, y5, RED, 2.5);
crossMark(x5(vvt1Cursor[0]), y5(vvt1Cursor[1]), 5.5, 3);
vtxt(25, 528, "EN_VVT1_Pos (°)", RED);
txt(18, 635, "TR: [1507,497..1541,2...");
txt(272, 635, "EN_VVT1_Tgt (°)", { anchor: "end" });
arrowsGlyph(359, 636);
cursorLegend(329.5, 294.5, 71, 467, RED, vvt1Values);

// ===== Panels 6 & 8 : error histograms =====
function errorPanel(p, label, bins, pct) {
  const xs = d3.scaleLinear().domain([-10, 10]).range([p.x0, p.x1]);
  const ys = d3.scaleLinear().domain([0, 100]).range([p.y1, p.y0]);
  const g = svg.append("g");
  d3.range(-7.5, 7.6, 2.5).forEach(v => g.append("line").attr("x1", Math.round(xs(v)) + 0.5).attr("x2", Math.round(xs(v)) + 0.5)
    .attr("y1", p.y0).attr("y2", p.y1).attr("stroke", "#7d7d7d"));
  d3.range(10, 100, 10).forEach(v => g.append("line").attr("x1", p.x0).attr("x2", p.x1).attr("y1", Math.round(ys(v)) + 0.5)
    .attr("y2", Math.round(ys(v)) + 0.5).attr("stroke", "#7d7d7d"));
  g.append("line").attr("x1", p.x1 - 0.5).attr("x2", p.x1 - 0.5).attr("y1", p.y0).attr("y2", p.y1).attr("stroke", "#9a9a9a");
  if (bins) {
    const zone = d3.scaleThreshold().domain([-3.75, -2.5, 2.5, 3.75]).range([RED, "#ffff00", "#00ff00", "#ffff00", RED]);
    g.selectAll("rect.bar").data(bins).join("rect")
      .attr("x", d => xs(d) + 1).attr("width", d => xs(d + 1.25) - xs(d) - 1.5)
      .attr("y", (d, i) => ys(pct[i])).attr("height", (d, i) => p.y1 - ys(pct[i]))
      .attr("fill", d => zone(d + 0.625));
  }
  const t = d3.range(-10, 10.01, 1.25);
  g.append("line").attr("x1", p.x0).attr("x2", p.x1).attr("y1", p.y0 + 0.5).attr("y2", p.y0 + 0.5).attr("stroke", BLUE).attr("stroke-width", 1.5);
  g.append("line").attr("x1", p.x0).attr("x2", p.x1).attr("y1", p.y1 + 0.5).attr("y2", p.y1 + 0.5).attr("stroke", BLUE).attr("stroke-width", 1.5);
  drawAxis(0, p.y0, d3.axisTop(xs).tickValues(t).tickSize(9).tickFormat(""), BLUE);
  drawAxis(0, p.y1, d3.axisBottom(xs).tickValues(t).tickSize(5).tickFormat(""), BLUE);
  const ax = drawAxis(0, p.y1, d3.axisBottom(xs).tickValues(errTicks).tickSize(0).tickPadding(12.5).tickFormat(d3.format(".2f")), BLUE, BLUE);
  ax.selectAll(".tick text").filter(d => d === -10).attr("text-anchor", "start").attr("x", 2);
  ax.selectAll(".tick text").filter(d => d === 10).attr("text-anchor", "end").attr("x", -1);
  drawAxis(p.x0, 0, d3.axisLeft(ys).tickValues(d3.range(0, 101, 10)).tickSize(9).tickFormat(""), "#b8b8b8");
  const off = { 0: -4, 50: 0, 100: 6 };
  pctTicks.forEach(v => txt(p.x0 - 12, ys(v) + off[v] + 4.5, String(v), { anchor: "end" }));
  txt(p.x0 - 17, 475, "%", { anchor: "middle" });
  txt(p.x1, 632, label, { fill: BLUE, anchor: "end" });
}
panel(374, 431, 708, 638, "[Task 1] - VVT1 Error");
errorPanel({ x0: 415, x1: 702, y0: 484, y1: 596 }, "Error_VVT1 (user defined)", vvt1BinStart, vvt1Pct);

// ===== Panel 7 : VVT2 =====
panel(712, 431, 1063, 638, "[Task 1] - VVT2");
const p7 = { x0: 772, x1: 967, y0: 474, y1: 599 };
scrollBars(p7);
plotFrame(p7, "#7d7d7d", { frame: "#9a9a9a" });
svg.append("line").attr("x1", p7.x0 + 0.5).attr("x2", p7.x0 + 0.5).attr("y1", p7.y0).attr("y2", p7.y1).attr("stroke", MAG);
vtxt(725.5, 538, "EN_VVT2_Pos (°)", MAG);
txt(721, 634, "TR: [1507,497..1541,...");
txt(964, 634, "EN_VVT2_Tgt (°)", { anchor: "end" });
arrowsGlyph(1052, 636);
cursorLegend(1021, 986, 74, 467, MAG, ["No Value", "No Value"]);

// ===== Panel 8 : VVT2 Error =====
panel(1067, 431, 1394, 638, "[Task 1] - VVT2 Error");
errorPanel({ x0: 1109, x1: 1390, y0: 484, y1: 596 }, "Error_VVT2 (user defined)", null, null);

// ===== Panel 9 : Max_Min_Pdl_Thr table =====
panel(9, 643, 492, 822, "[Task 1] - Max_Min_Pdl_Thr", { lock: false });
defs.append("clipPath").attr("id", "clipTab").append("rect").attr("x", 10).attr("y", 670).attr("width", 480).attr("height", 150);
const tab = svg.append("g").attr("clip-path", "url(#clipTab)");
tab.append("rect").attr("x", 347.5).attr("y", 671.5).attr("width", 142).attr("height", 6).attr("fill", "#000").attr("stroke", "#eee");
tab.append("rect").attr("x", 257).attr("y", 671).attr("width", 91).attr("height", 7).attr("fill", "#8c8c8c").attr("stroke", "#ddd");
const rowY = [680, 698, 716, 735, 753, 771, 790];
const colX = [257, 327, 373, 419, 472, 540];
rowY.forEach(y => tab.append("line").attr("x1", 10).attr("x2", 490).attr("y1", y + 0.5).attr("y2", y + 0.5).attr("stroke", "#808080"));
colX.forEach(x => tab.append("line").attr("x1", x + 0.5).attr("x2", x + 0.5).attr("y1", rowY[0]).attr("y2", rowY[6]).attr("stroke", "#808080"));
[22, 202].forEach(x => tab.append("line").attr("x1", x + 0.5).attr("x2", x + 0.5).attr("y1", rowY[2]).attr("y2", rowY[6]).attr("stroke", "#808080"));
function ttxt(x, y, s, o) { tab.append("text").attr("x", x).attr("y", y).text(s).attr("fill", o.fill || "#fff")
  .attr("font-size", 12.5).attr("font-weight", o.fw || "bold").attr("text-anchor", o.anchor || "start"); }
ttxt(251, rowY[0] + 13.5, "Lap number", { fw: "normal", anchor: "end" });
ttxt(251, rowY[1] + 13.5, "Lap time (sec)", { fw: "normal", anchor: "end" });
lapNumbers.forEach((s, i) => ttxt((colX[i] + colX[i + 1]) / 2, rowY[0] + 13.5, s, { fw: "normal", anchor: "middle" }));
lapTimes.forEach((s, i) => ttxt((colX[i] + colX[i + 1]) / 2, rowY[1] + 13.5, s, { fw: "normal", anchor: "middle" }));
const rowData = [pedalMax, pedalMin, throttleMax, throttleMin];
const rowColor = [BLUE, BLUE, RED, RED];
rowChannels.forEach((s, r) => {
  const y = rowY[r + 2];
  tab.append("rect").attr("x", 10).attr("y", y + 1).attr("width", 12).attr("height", 17.5).attr("fill", rowColor[r]);
  ttxt(26, y + 13.5, s, {});
  ttxt(206, y + 13.5, rowStats[r], {});
  rowData[r].forEach((v, i) => ttxt(colX[i + 1] - 5, y + 13.5, v.toFixed(2), { anchor: "end", fill: rowStats[r] === "min" && rowColor[r] === BLUE ? BLUE : "#fff" }));
});

// ===== Panel 10 : Engine use =====
panel(495, 643, 940, 822, "[Task 1] - Engine use");
const p10 = { x0: 529, x1: 933, y0: 687, y1: 779 };
const xE = d3.scaleLinear().domain([0, 7000]).range([p10.x0, p10.x1]);
const yE = d3.scaleLinear().domain([0, 26.5]).range([p10.y1, p10.y0]);
const g10 = svg.append("g");
d3.range(700, 7000, 700).forEach(v => g10.append("line").attr("x1", Math.round(xE(v)) + 0.5).attr("x2", Math.round(xE(v)) + 0.5)
  .attr("y1", p10.y0).attr("y2", p10.y1).attr("stroke", "#7d7d7d"));
const hRows = 11;
for (let i = 1; i < hRows; i++) {
  const y = Math.round(p10.y0 + i * (p10.y1 - p10.y0) / hRows) + 0.5;
  g10.append("line").attr("x1", p10.x0).attr("x2", p10.x1).attr("y1", y).attr("y2", y).attr("stroke", "#7d7d7d");
  g10.append("line").attr("x1", p10.x0 - 7).attr("x2", p10.x0).attr("y1", y).attr("y2", y).attr("stroke", "#b8b8b8");
}
g10.append("line").attr("x1", p10.x0 + 0.5).attr("x2", p10.x0 + 0.5).attr("y1", p10.y0).attr("y2", p10.y1).attr("stroke", "#9a9a9a");
g10.append("line").attr("x1", p10.x1 - 0.5).attr("x2", p10.x1 - 0.5).attr("y1", p10.y0).attr("y2", p10.y1).attr("stroke", "#9a9a9a");
const engZone = d3.scaleThreshold().domain([3000, 5500]).range(["#00ffff", "#00ff00", "#ff9900"]);
g10.selectAll("rect.bar").data(engineBinStart).join("rect")
  .attr("x", d => xE(d) + 1).attr("width", d => xE(d + 500) - xE(d) - 1.5)
  .attr("y", (d, i) => yE(enginePct[i])).attr("height", (d, i) => p10.y1 - yE(enginePct[i]))
  .attr("fill", d => engZone(d));
g10.append("line").attr("x1", p10.x0).attr("x2", p10.x1).attr("y1", p10.y0 + 0.5).attr("y2", p10.y0 + 0.5).attr("stroke", RED).attr("stroke-width", 1.5);
g10.append("line").attr("x1", p10.x0).attr("x2", p10.x1).attr("y1", p10.y1 + 0.5).attr("y2", p10.y1 + 0.5).attr("stroke", RED).attr("stroke-width", 1.5);
drawAxis(0, p10.y0, d3.axisTop(xE).tickValues(d3.range(0, 7001, 500)).tickSize(8).tickFormat(""), RED);
drawAxis(0, p10.y1, d3.axisBottom(xE).tickValues(d3.range(0, 7001, 500)).tickSize(5).tickFormat(""), RED);
const axE = drawAxis(0, p10.y1, d3.axisBottom(xE).tickValues(engineTicks).tickSize(0).tickPadding(11.5).tickFormat(d3.format(".2f")), RED, RED);
axE.selectAll(".tick text").filter(d => d === 0).attr("text-anchor", "start").attr("x", 2);
enginePctTicks.forEach(v => txt(520, yE(v) + (v === 0 ? -4.5 : 0) + 4.5, String(v), { anchor: "end" }));
txt(514, 687, "%", { anchor: "middle" });
txt(931, 815, "EN_RPM (rpm)", { fill: RED, anchor: "end" });

// ===== Panels 11 : gauges =====
// gradients are in the gauge group's local coordinates (centre at 0,0)
grad("gOrange", [[0, "#ffffff"], [0.35, "#fde2b6"], [0.7, "#fbbb5c"], [1, "#ff9a0e"]],
  { x1: -92, x2: 92, y1: 0, y2: 0, gradientUnits: "userSpaceOnUse" });
grad("gPurple", [[0, "#ff8cff"], [0.45, "#d050d0"], [1, "#780078"]],
  { x1: -92, x2: 92, y1: 0, y2: 0, gradientUnits: "userSpaceOnUse" });

function gauge(cx, cy, gradId, value) {
  const a = d3.scaleLinear().domain([1, 4]).range([-Math.PI / 3, Math.PI / 3]);
  const g = svg.append("g").attr("transform", `translate(${cx},${cy})`);
  g.append("path").attr("d", d3.arc().innerRadius(66).outerRadius(90).startAngle(a(1)).endAngle(a(4))())
    .attr("fill", `url(#${gradId})`);
  const pth = d3.path();
  pth.arc(0, 0, 90, a(1) - Math.PI / 2, a(4) - Math.PI / 2);
  g.append("path").attr("d", pth.toString()).attr("fill", "none").attr("stroke", "#000").attr("stroke-width", 1);
  d3.range(1, 4.001, 0.2).forEach(v => {
    const th = a(v), major = Math.abs(v - Math.round(v)) < 1e-6, r2 = major ? 101 : 96;
    g.append("line").attr("x1", 90 * Math.sin(th)).attr("y1", -90 * Math.cos(th))
      .attr("x2", r2 * Math.sin(th)).attr("y2", -r2 * Math.cos(th)).attr("stroke", "#000").attr("stroke-width", 1);
  });
  gaugeLabels.forEach(v => {
    const th = a(v);
    g.append("text").attr("x", 109 * Math.sin(th)).attr("y", -109 * Math.cos(th)).attr("dy", "0.35em")
      .attr("text-anchor", "middle").attr("font-size", 13).attr("font-weight", "bold").attr("fill", "#000").text(v);
  });
  if (value != null) {
    const n = g.append("g").attr("transform", `rotate(${a(value) * 180 / Math.PI})`);
    n.append("path").attr("d", "M-13,0L0,-101L13,0A13,13 0 0 1 -13,0Z").attr("fill", "#ff9900").attr("stroke", "#000").attr("stroke-width", 1);
    n.append("circle").attr("r", 9).attr("fill", "#000");
  } else {
    g.append("circle").attr("r", 12).attr("fill", "#000");
  }
}
panel(943, 643, 1164, 822, "[Task 1] - CALPOT", { lock: false, bg: "#fff" });
gauge(1063, 778, "gOrange", calpotValue);
panel(1168, 643, 1394, 822, "[Task 1] - TCSPOT", { lock: false, bg: "#fff" });
gauge(1292, 779, "gPurple", null);

// ===== panel numbers =====
const panelNumbers = [["1", 638, 382, 97], ["2", 836, 152, 102], ["3", 813, 338, 96], ["4", 1159, 338, 96],
  ["5", 108, 561, 100], ["6", 453, 561, 96], ["7", 801, 560, 95], ["8", 1147, 561, 96],
  ["9", 147, 790, 104], ["10", 575, 766, 98], ["11", 1149, 830, 100]];
panelNumbers.forEach(([s, x, y, fs]) => {
  svg.append("text").attr("x", x).attr("y", y).attr("text-anchor", "middle").attr("font-size", fs)
    .attr("font-weight", "bold").attr("fill", RED).text(s);
});
</script>
</body></html>
